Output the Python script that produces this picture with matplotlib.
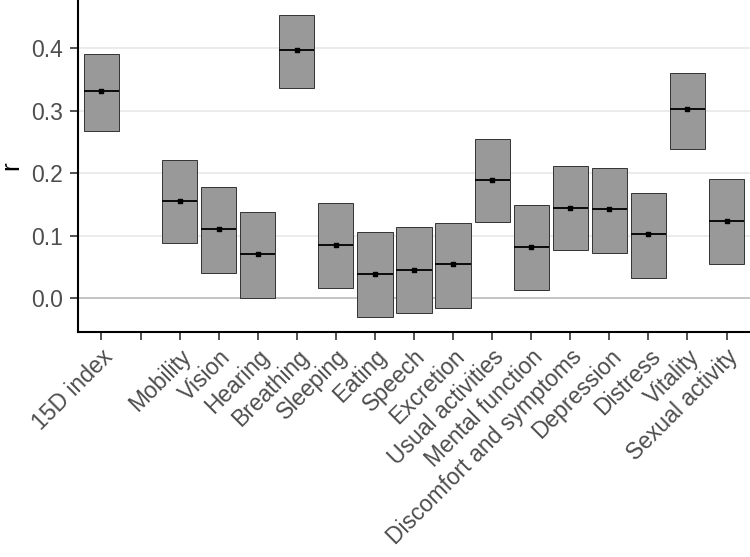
import numpy as np
import matplotlib.pyplot as plt
from matplotlib.transforms import ScaledTranslation

plt.rcParams['font.family'] = ['Liberation Sans', 'DejaVu Sans']

# categories (empty string = spacer slot after the index)
labels = ["15D index", "", "Mobility", "Vision", "Hearing", "Breathing", "Sleeping",
          "Eating", "Speech", "Excretion", "Usual activities", "Mental function",
          "Discomfort and symptoms", "Depression", "Distress", "Vitality",
          "Sexual activity"]
r_est = [0.331, np.nan, 0.156, 0.110, 0.071, 0.397, 0.085, 0.039, 0.045, 0.054,
         0.189, 0.082, 0.145, 0.142, 0.102, 0.302, 0.124]
r_low = [0.267, np.nan, 0.088, 0.041, 0.001, 0.336, 0.017, -0.030, -0.024, -0.015,
         0.122, 0.013, 0.077, 0.073, 0.033, 0.238, 0.055]
r_high = [0.391, np.nan, 0.221, 0.178, 0.138, 0.453, 0.153, 0.106, 0.114, 0.121,
          0.254, 0.149, 0.212, 0.208, 0.169, 0.361, 0.191]

x = np.arange(1, len(labels) + 1)
est = np.array(r_est)
low = np.array(r_low)
high = np.array(r_high)
ok = ~np.isnan(est)

fig = plt.figure(figsize=(7.5, 5.57), dpi=100)
ax = fig.add_axes([78 / 750, 1 - 332 / 557, 672 / 750, 332 / 557])

# grid
for v in [0.1, 0.2, 0.3, 0.4]:
    ax.axhline(v, color='#EBEBEB', lw=1.4, zorder=0)
ax.axhline(0, color='#C4C4C4', lw=1.4, zorder=0)

w = 0.9
ax.bar(x[ok], high[ok] - low[ok], bottom=low[ok], width=w, color='#999999',
       edgecolor='#333333', linewidth=0.7, zorder=2)
ax.hlines(est[ok], x[ok] - w / 2, x[ok] + w / 2, color='black', lw=1.3, zorder=3)
ax.scatter(x[ok], est[ok], s=5, marker='s', color='black', zorder=4)

rng = np.nanmax(high) - np.nanmin(low)
ax.set_ylim(np.nanmin(low) - 0.05 * rng, np.nanmax(high) + 0.05 * rng)
ax.set_xlim(0.4, len(labels) + 0.6)
ax.set_yticks([0.0, 0.1, 0.2, 0.3, 0.4])
ax.set_yticklabels(['0.0', '0.1', '0.2', '0.3', '0.4'])
ax.set_xticks(x)
ax.set_xticklabels(labels, rotation=45, ha='right', rotation_mode='anchor')
off = ScaledTranslation(13 / 100, -5 / 100, fig.dpi_scale_trans)
for t in ax.get_xticklabels():
    t.set_transform(t.get_transform() + off)

ax.tick_params(axis='both', length=5.5, width=1.2, color='#333333',
               labelsize=16.5, labelcolor='#4D4D4D')
ax.tick_params(axis='y', pad=5.5)
ax.tick_params(axis='x', pad=4)
ax.set_ylabel('r', fontsize=19, rotation=90, color='black')
ax.yaxis.set_label_coords(-55 / 672, 0.5)

for s in ['top', 'right']:
    ax.spines[s].set_visible(False)
for s in ['left', 'bottom']:
    ax.spines[s].set_linewidth(1.5)
    ax.spines[s].set_color('black')

fig.savefig('out.png', dpi=100)
